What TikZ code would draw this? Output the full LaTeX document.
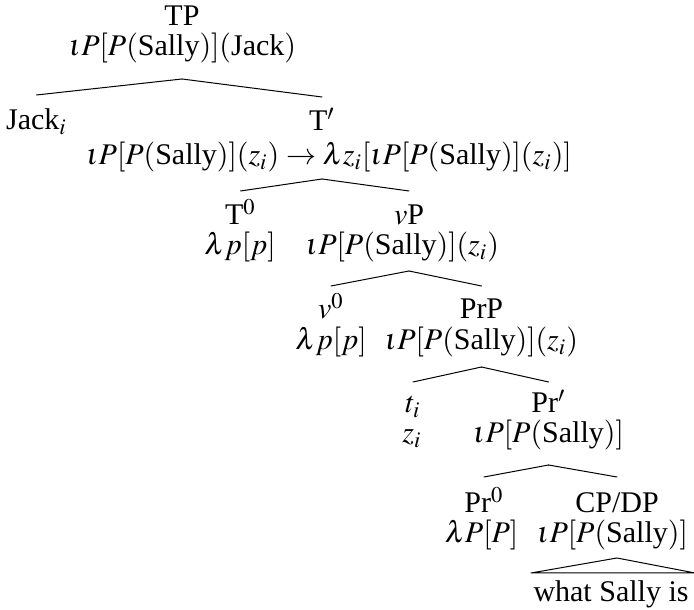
\documentclass[tikz,border=0pt]{standalone}
\usepackage{amsmath}
\usepackage{mathptmx}
\usepackage{fontspec}
\setmainfont{Liberation Serif}
\usepackage{tikz}
\usetikzlibrary{calc}

\begin{document}
\begin{tikzpicture}[x=0.4pt, y=-0.4pt, font=\fontsize{12}{12.4}\selectfont, line join=round, line cap=round,
    every node/.style={anchor=base, inner sep=0pt}]
        \useasboundingbox (0,0) rectangle (694,610);
        \def\sally{P[P(\text{Sally})]}
        % labels and their meanings, row by row
        \node (tp) at (182,26) {TP};
        \node (tp-sem) at (182.5,56) {$\iota\sally(\text{Jack})$};
        \node (jack) at (36.5,130) {Jack$_i$};
        \node (tbar) at (322,131) {T$'$};
        \node (tbar-sem) at (329,165) {$\iota\sally(z_i)\rightarrow\lambda z_i[\iota\sally(z_i)]$};
        \node (t0) at (240.5,225) {T$^0$};
        \node (t0-sem) at (240,255) {$\lambda p[p]$};
        \node (vp) at (409,225) {$v$P};
        \node (vp-sem) at (402.5,255) {$\iota\sally(z_i)$};
        \node (v0) at (331,319) {$v^0$};
        \node (v0-sem) at (331,350) {$\lambda p[p]$};
        \node (prp) at (481.5,319) {PrP};
        \node (prp-sem) at (481.5,350) {$\iota\sally(z_i)$};
        \node (ti) at (413,413) {$t_i$};
        \node (ti-sem) at (412,443) {$z_i$};
        \node (prbar) at (548.5,413) {Pr$'$};
        \node (prbar-sem) at (548.5,443) {$\iota\sally$};
        \node (pr0) at (484,513) {Pr$^0$};
        \node (pr0-sem) at (481.5,543) {$\lambda P[P]$};
        \node (cpdp) at (617,513) {CP/DP};
        \node (cpdp-sem) at (612.5,543) {$\iota\sally$};
        \node (what) at (611,602) {what Sally is};
        % where the branches of each mother meet
        \foreach \p/\d in {tp/23,tbar/14,vp/16,prp/17,prbar/22,cpdp/15}
            \coordinate (\p-top) at ($(\p |- \p-sem.base)+(0,\d)$);
        % branches
        \foreach \p/\k/\r in {tp/jack/35,tp/tbar/34,tbar/t0/34,tbar/vp/34,vp/v0/33,vp/prp/33,prp/ti/31,prp/prbar/31,prbar/pr0/36,prbar/cpdp/36}
            \draw (\p-top) -- ($(\k.base)+(0,-\r)$);
        \draw (cpdp-top) -- ($(what.base west)+(-2,-29)$) -- ($(what.base east)+(6,-29)$) -- cycle;
\end{tikzpicture}
\end{document}
